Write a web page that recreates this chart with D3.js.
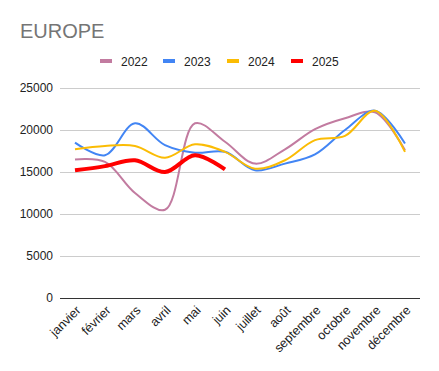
<!DOCTYPE html>
<html><head><meta charset="utf-8">
<script src="https://cdn.jsdelivr.net/npm/d3@7"></script>
<style>body{margin:0;background:#fff;} svg{display:block;font-family:Arial,"Liberation Sans",sans-serif;}</style>
</head><body><svg id="c" width="439" height="371"></svg>
<script>
const months = ["janvier","février","mars","avril","mai","juin","juillet","août","septembre","octobre","novembre","décembre"];
const years = ["2022","2023","2024","2025"];
const v2022 = [16500,16200,12500,10500,20800,18600,16000,17700,20100,21400,22100,17600];
const v2023 = [18500,17000,20800,18200,17300,17400,15200,16000,17100,20000,22300,18400];
const v2024 = [17700,18100,18100,16700,18300,17400,15400,16400,18800,19300,22300,17400];
const v2025 = [15200,15700,16400,15000,17000,15300];
const yTicks = [0,5000,10000,15000,20000,25000];
const series = [v2022,v2023,v2024,v2025];
const colors = ["#c27ba0","#4285f4","#fbbc04","#ff0000"];
const widths = [2,2,2,4];

const svg = d3.select("#c");
const x = d3.scalePoint().domain(months).range([60,420]).padding(0.5);
const y = d3.scaleLinear().domain([0,25000]).range([298,88]);

svg.append("text").attr("x",20).attr("y",38).attr("font-size",20).attr("fill","#757575").text("EUROPE");

// legend
const lg = svg.append("g");
const lx = [100,163,227,291];
years.forEach((yr,i)=>{
  lg.append("rect").attr("x",lx[i]).attr("y",59).attr("width",12).attr("height",4).attr("fill",colors[i]);
  lg.append("text").attr("x",lx[i]+21).attr("y",65.5).attr("font-size",12).attr("fill","#222").text(yr);
});

// grid
const ya = d3.axisLeft(y).tickValues(yTicks).tickSize(-360).tickFormat(d3.format("d"));
const g = svg.append("g").attr("transform","translate(60,0)").call(ya);
g.select(".domain").remove();
g.selectAll(".tick line").attr("stroke",d=>d===0?"#333":"#ccc");
g.selectAll(".tick text").attr("x",-7).attr("font-size",12).attr("fill","#222").attr("font-family","Arial,'Liberation Sans',sans-serif");

// x axis labels
const xa = d3.axisBottom(x).tickSize(0);
const gx = svg.append("g").attr("transform","translate(0,298)").call(xa);
gx.select(".domain").remove();
gx.selectAll(".tick text").attr("font-size",12.6).attr("fill","#222").attr("font-family","Arial,'Liberation Sans',sans-serif")
  .attr("text-anchor","end").attr("dy",0).attr("y",0)
  .attr("transform","translate(6,13) rotate(-45)");

const line = d3.line().x((d,i)=>x(months[i])).y(d=>y(d)).curve(d3.curveCatmullRom.alpha(0.5));
series.forEach((s,i)=>{
  svg.append("path").attr("d",line(s)).attr("fill","none").attr("stroke",colors[i]).attr("stroke-width",widths[i]).attr("stroke-linejoin","round");
});
</script></body></html>
